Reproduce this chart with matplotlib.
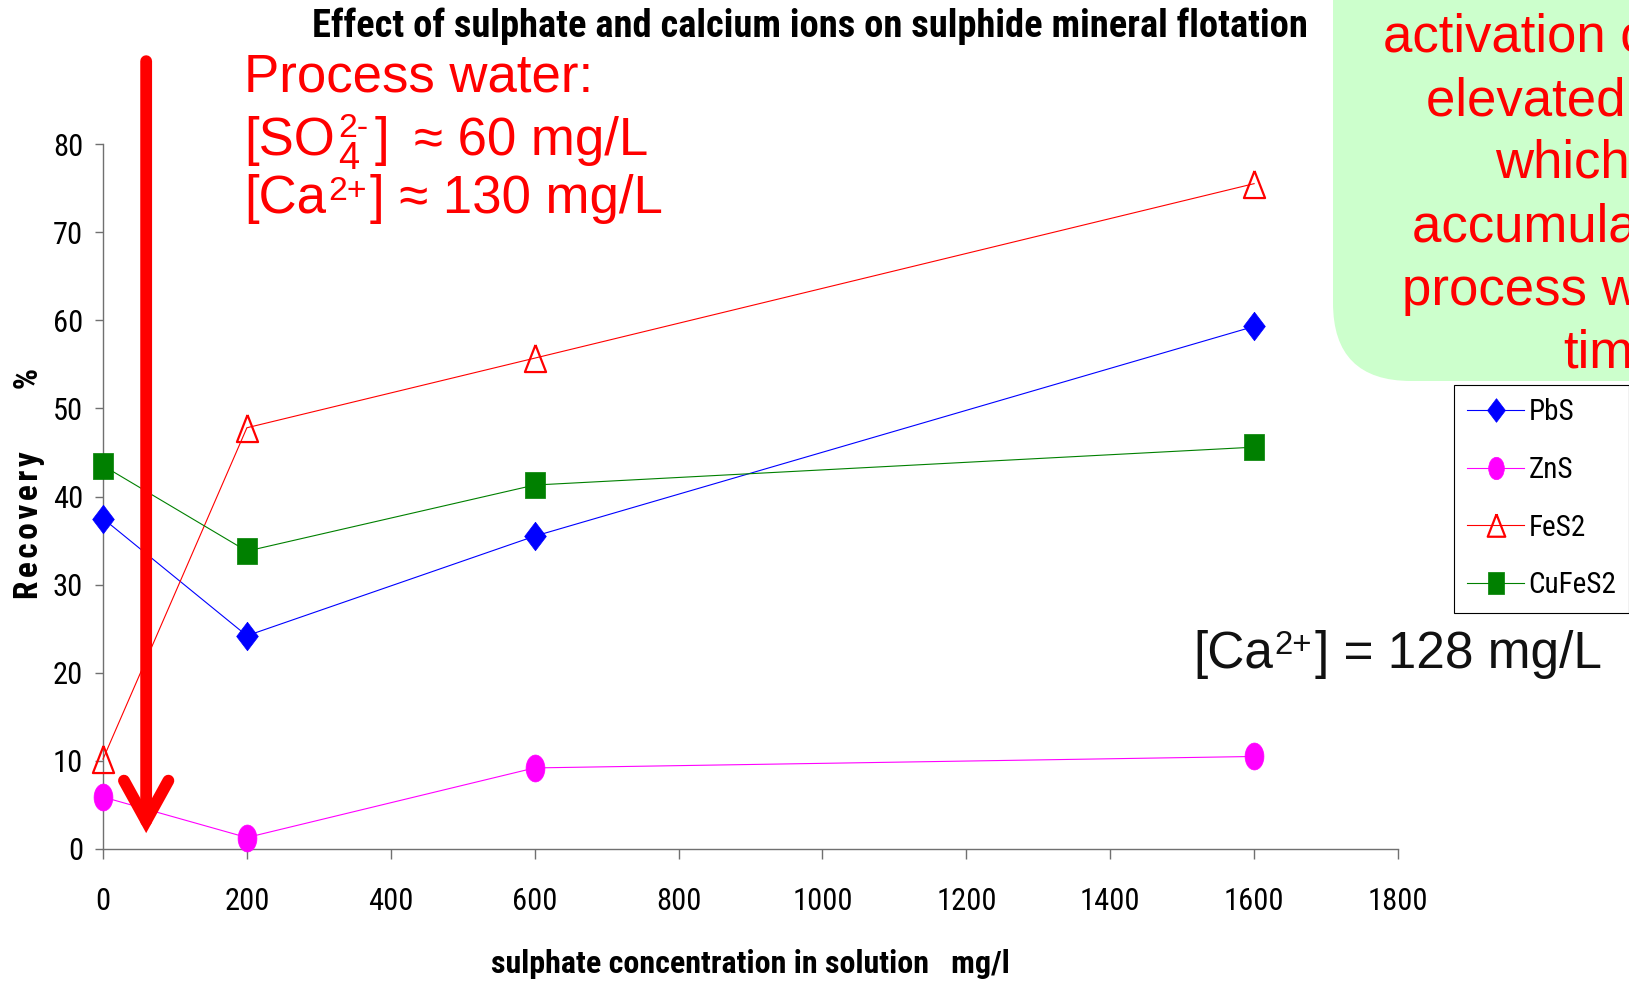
import matplotlib

matplotlib.use("Agg")
import matplotlib.pyplot as plt
from matplotlib.patches import FancyBboxPatch
from matplotlib.path import Path
from matplotlib.transforms import Affine2D

plt.rcParams["font.family"] = ["Liberation Sans", "DejaVu Sans"]

# Arial Narrow look-alike for the chart texts
NARROW = ["Liberation Sans Narrow", "Roboto Condensed", "PT Sans Narrow",
          "Liberation Sans", "DejaVu Sans"]

# data
sulphate = [0, 200, 600, 1600]
pbs = [37.5, 24.2, 35.5, 59.3]
zns = [5.9, 1.3, 9.2, 10.5]
fes2 = [10.2, 47.8, 55.7, 75.5]
cufes2 = [43.5, 33.8, 41.3, 45.6]

xticks = [0, 200, 400, 600, 800, 1000, 1200, 1400, 1600, 1800]
yticks = [0, 10, 20, 30, 40, 50, 60, 70, 80]

process_so4 = 60  # mg/L, where the red arrow points

W, H = 1629, 981


def fx(px):
    return px / W


def fy(py):
    return 1 - py / H


def rich_line(fig, x_px, y_px, runs, size, color):
    """Lay out runs of (text, scale, rise_px, gap_px) along one baseline.

    A list of runs is a stacked sub/superscript pair: both start at the same x
    and the wider one sets the advance.
    """
    renderer = fig.canvas.get_renderer()
    x = x_px
    for run in runs:
        group = run if isinstance(run, list) else [run]
        adv = 0
        for txt, scale, rise, gap in group:
            t = fig.text(fx(x), fy(y_px - rise), txt, fontsize=size * scale,
                         color=color, va="baseline", zorder=2)
            adv = max(adv, t.get_window_extent(renderer).width + gap)
        x += adv


# Excel markers in the slide are squeezed sideways
m_diamond = Path([(0, 1), (0.76, 0), (0, -1), (-0.76, 0), (0, 1)])
m_circle = Path.unit_circle().transformed(Affine2D().scale(0.70, 1.0))
m_square = Path([(-0.77, -1), (0.77, -1), (0.77, 1), (-0.77, 1), (-0.77, -1)])
m_triangle = Path([(0, 1), (0.78, -1), (-0.78, -1), (0, 1)])

fig = plt.figure(figsize=(W / 100, H / 100), dpi=100)
ax = fig.add_axes([fx(103), fy(849), fx(1398) - fx(103), fy(144) - fy(849)])
ax.patch.set_visible(False)

ax.plot(sulphate, pbs, color="#0000ff", lw=0.8, marker=m_diamond, ms=20.5,
        mec="#0000ff", mew=0.5, label="PbS", clip_on=False, zorder=3)
ax.plot(sulphate, zns, color="#ff00ff", lw=0.8, marker=m_circle, ms=19.4,
        mec="#ff00ff", mew=0.5, label="ZnS", clip_on=False, zorder=3)
ax.plot(sulphate, fes2, color="#ff0000", lw=0.8, marker=m_triangle, ms=19.5,
        mfc="none", mec="#ff0000", mew=1.6, label="FeS2", clip_on=False, zorder=3)
ax.plot(sulphate, cufes2, color="#008000", lw=0.8, marker=m_square, ms=18.7,
        mec="#008000", mew=0.5, label="CuFeS2", clip_on=False, zorder=3)

ax.set_xlim(0, 1800)
ax.set_ylim(0, 80)
ax.set_xticks(xticks)
ax.set_yticks(yticks)
for s in ("top", "right"):
    ax.spines[s].set_visible(False)
for s in ("left", "bottom"):
    ax.spines[s].set_color("#707070")
    ax.spines[s].set_linewidth(1.0)
ax.tick_params(axis="x", direction="out", length=7, width=1, color="#707070", pad=20)
ax.tick_params(axis="y", direction="out", length=5.8, width=1, color="#707070", pad=8.5)
for lab in ax.get_xticklabels() + ax.get_yticklabels():
    lab.set_family(NARROW)
    lab.set_fontsize(22)

# labels and title
fig.text(fx(810), fy(26), "Effect of sulphate and calcium ions on sulphide mineral flotation",
         family=NARROW, fontsize=27.7, fontweight="bold", ha="center", va="center")
fig.text(fx(750), fy(964), "sulphate concentration in solution   mg/l",
         family=NARROW, fontsize=23, fontweight="bold", ha="center", va="center")
hair = "\u200a"
fig.text(fx(29), fy(483), hair.join("Recovery") + "        %", family=NARROW, fontsize=24,
         fontweight="bold", rotation=90, ha="center", va="center")

# process water annotation
red = "#ff0000"
big = 38
fig.text(fx(244), fy(92), "Process water:", color=red, fontsize=big, va="baseline")
rich_line(fig, 244, 155, [
    ("[SO", 1, 0, 3),
    [("4", 0.72, -14, 0), ("2-", 0.64, 18, 7)],
    ("]", 1, 0, 25),
    ("≈ 60 mg/L", 1, 0, 0),
], big, red)
rich_line(fig, 244, 213, [
    ("[Ca", 1, 0, 2),
    ("2+", 0.64, 13, 3),
    ("] ≈ 130 mg/L", 1, 0, 0),
], big, red)

ax.annotate("", xy=(process_so4, 1.8), xytext=(process_so4, 89.4),
            annotation_clip=False, zorder=5,
            arrowprops=dict(arrowstyle="->,head_length=1.45,head_width=0.8",
                            mutation_scale=20, lw=8.5, color=red,
                            shrinkA=0, shrinkB=0, joinstyle="miter", capstyle="round"))

rich_line(fig, 1193, 668, [
    ("[Ca", 1, 0, 2),
    ("2+", 0.64, 14, 3),
    ("] = 128 mg/L", 1, 0, 0),
], 37, "#111111")

# green call-out box, runs off the slide edge (drawn in inches so the corner stays round)
box = FancyBboxPatch((13.33, (H - 381) / 100), 8, 8,
                     boxstyle="round,pad=0,rounding_size=0.78",
                     transform=fig.dpi_scale_trans, facecolor="#ccffcc", edgecolor="none",
                     zorder=1)
fig.add_artist(box)
box_lines = [
    ("activation of", 1383, 52),
    ("elevated Ca", 1426, 115),
    ("which has", 1495, 178),
    ("accumulated in", 1412, 242),
    ("process water", 1402, 305),
    ("time", 1563, 368),
]
for txt, x0, y0 in box_lines:
    fig.text(fx(x0), fy(y0), txt, color=red, fontsize=big, va="baseline", zorder=2)

leg = ax.legend(loc="upper left", bbox_to_anchor=(fx(1454), fy(385)),
                bbox_transform=fig.transFigure, borderaxespad=0, frameon=True,
                fancybox=False, edgecolor="black", framealpha=1, markerscale=0.83,
                prop={"family": NARROW, "size": 21}, handlelength=1.95,
                handletextpad=0.15, labelspacing=1.02, borderpad=0.45)
leg.get_frame().set_linewidth(0.8)

fig.savefig("out.png", dpi=100)
